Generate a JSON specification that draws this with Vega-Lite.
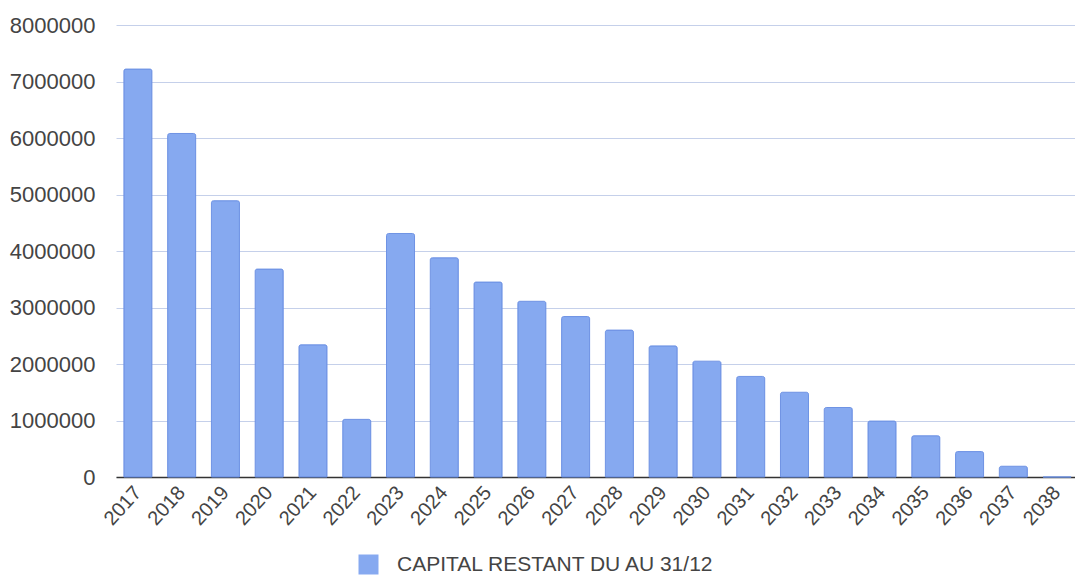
{
  "$schema": "https://vega.github.io/schema/vega-lite/v6.json",
  "autosize": "none",
  "width": 963,
  "height": 452,
  "padding": {"left": 116, "top": 25, "right": 0, "bottom": 102},
  "background": "white",
  "data": {
    "values": [
      {"year": "2017", "value": 7220000, "series": "CAPITAL RESTANT DU AU 31/12"},
      {"year": "2018", "value": 6080000, "series": "CAPITAL RESTANT DU AU 31/12"},
      {"year": "2019", "value": 4890000, "series": "CAPITAL RESTANT DU AU 31/12"},
      {"year": "2020", "value": 3680000, "series": "CAPITAL RESTANT DU AU 31/12"},
      {"year": "2021", "value": 2340000, "series": "CAPITAL RESTANT DU AU 31/12"},
      {"year": "2022", "value": 1020000, "series": "CAPITAL RESTANT DU AU 31/12"},
      {"year": "2023", "value": 4310000, "series": "CAPITAL RESTANT DU AU 31/12"},
      {"year": "2024", "value": 3880000, "series": "CAPITAL RESTANT DU AU 31/12"},
      {"year": "2025", "value": 3450000, "series": "CAPITAL RESTANT DU AU 31/12"},
      {"year": "2026", "value": 3110000, "series": "CAPITAL RESTANT DU AU 31/12"},
      {"year": "2027", "value": 2840000, "series": "CAPITAL RESTANT DU AU 31/12"},
      {"year": "2028", "value": 2600000, "series": "CAPITAL RESTANT DU AU 31/12"},
      {"year": "2029", "value": 2320000, "series": "CAPITAL RESTANT DU AU 31/12"},
      {"year": "2030", "value": 2050000, "series": "CAPITAL RESTANT DU AU 31/12"},
      {"year": "2031", "value": 1780000, "series": "CAPITAL RESTANT DU AU 31/12"},
      {"year": "2032", "value": 1500000, "series": "CAPITAL RESTANT DU AU 31/12"},
      {"year": "2033", "value": 1230000, "series": "CAPITAL RESTANT DU AU 31/12"},
      {"year": "2034", "value": 990000, "series": "CAPITAL RESTANT DU AU 31/12"},
      {"year": "2035", "value": 730000, "series": "CAPITAL RESTANT DU AU 31/12"},
      {"year": "2036", "value": 450000, "series": "CAPITAL RESTANT DU AU 31/12"},
      {"year": "2037", "value": 190000, "series": "CAPITAL RESTANT DU AU 31/12"},
      {"year": "2038", "value": 0, "series": "CAPITAL RESTANT DU AU 31/12"}
    ]
  },
  "mark": {"type": "bar", "stroke": "#6f93e4", "strokeWidth": 1, "cornerRadiusTopLeft": 2, "cornerRadiusTopRight": 2},
  "encoding": {
    "x": {
      "field": "year",
      "type": "ordinal",
      "scale": {"paddingInner": 0.36, "paddingOuter": 0.18},
      "axis": {
        "title": null,
        "labelAngle": -48,
        "labelFontSize": 20,
        "labelColor": "#444444",
        "labelFont": "Liberation Sans",
        "ticks": false,
        "domainColor": "#333333",
        "domainWidth": 1.5,
        "labelPadding": 12,
        "grid": false
      }
    },
    "y": {
      "field": "value",
      "type": "quantitative",
      "scale": {"domain": [0, 8000000], "nice": false},
      "axis": {
        "title": null,
        "values": [0, 1000000, 2000000, 3000000, 4000000, 5000000, 6000000, 7000000, 8000000],
        "format": "d",
        "labelFontSize": 22,
        "labelColor": "#444444",
        "labelFont": "Liberation Sans",
        "ticks": false,
        "domain": false,
        "labelPadding": 21,
        "gridColor": "#c5d0ea",
        "gridWidth": 1
      }
    },
    "color": {
      "field": "series",
      "type": "nominal",
      "scale": {"range": ["#86a9f0"]},
      "legend": {
        "title": null,
        "orient": "none",
        "legendX": 242,
        "legendY": 529,
        "symbolType": "square",
        "symbolSize": 400,
        "symbolStrokeWidth": 0,
        "labelFontSize": 21,
        "labelColor": "#444444",
        "labelFont": "Liberation Sans",
        "labelOffset": 18,
        "labelLimit": 600
      }
    }
  },
  "config": {"view": {"stroke": null}}
}
